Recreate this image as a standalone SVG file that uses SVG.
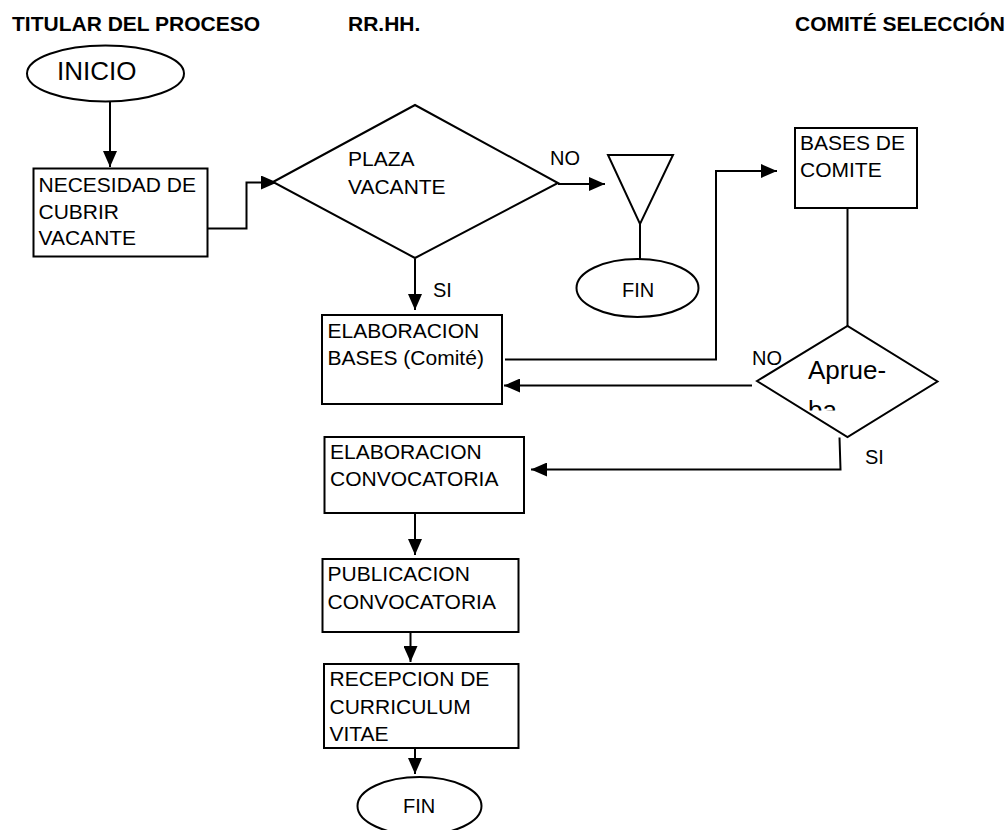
<svg xmlns="http://www.w3.org/2000/svg" width="1008" height="830" viewBox="0 0 1008 830">
  <style>
    .shape { fill: #ffffff; stroke: #000000; stroke-width: 2; }
    .conn { fill: none; stroke: #000000; stroke-width: 2; }
    .t { font-family: "Liberation Sans", Arial, sans-serif; font-size: 21px; fill: #000000; }
    .lbl { font-family: "Liberation Sans", Arial, sans-serif; font-size: 20px; fill: #000000; }
    .big { font-family: "Liberation Sans", Arial, sans-serif; font-size: 26px; fill: #000000; }
    .hdr { font-family: "Liberation Sans", Arial, sans-serif; font-size: 21px; font-weight: bold; fill: #000000; }
  </style>
  <defs>
    <marker id="arr" markerUnits="userSpaceOnUse" markerWidth="16" markerHeight="14" refX="16" refY="7" orient="auto">
      <path d="M0,0 L16,7 L0,14 z" fill="#000000"/>
    </marker>
    <clipPath id="clipAprueba">
      <rect x="790" y="340" width="120" height="70.5"/>
    </clipPath>
  </defs>
  <rect x="0" y="0" width="1008" height="830" fill="#ffffff"/>

  <g id="headers">
    <text class="hdr" x="12" y="31">TITULAR DEL PROCESO</text>
    <text class="hdr" x="348" y="31">RR.HH.</text>
    <text class="hdr" x="795" y="31">COMITÉ SELECCIÓN</text>
  </g>

  <g id="connectors">
    <line class="conn" x1="110" y1="102" x2="110" y2="167" marker-end="url(#arr)"/>
    <polyline class="conn" points="207.5,228.5 246.5,228.5 246.5,182.5 277,182.5" marker-end="url(#arr)"/>
    <line class="conn" x1="558" y1="184" x2="605" y2="184" marker-end="url(#arr)"/>
    <line class="conn" x1="640" y1="224" x2="640" y2="259"/>
    <line class="conn" x1="415" y1="259" x2="415" y2="310" marker-end="url(#arr)"/>
    <polyline class="conn" points="505,359.5 716,359.5 716,171 777,171" marker-end="url(#arr)"/>
    <line class="conn" x1="847.5" y1="208" x2="847.5" y2="326"/>
    <line class="conn" x1="752" y1="385.5" x2="504" y2="385.5" marker-end="url(#arr)"/>
    <polyline class="conn" points="839.5,437.5 840.5,469.5 531,469.5" marker-end="url(#arr)"/>
    <line class="conn" x1="415" y1="513" x2="415" y2="555" marker-end="url(#arr)"/>
    <line class="conn" x1="410.5" y1="632" x2="410.5" y2="662" marker-end="url(#arr)"/>
    <line class="conn" x1="415" y1="743" x2="415" y2="774" marker-end="url(#arr)"/>
    <text class="lbl" x="550" y="165">NO</text>
    <text class="lbl" x="433" y="297">SI</text>
    <text class="lbl" x="752" y="365">NO</text>
    <text class="lbl" x="865" y="464">SI</text>
  </g>

  <g id="inicio">
    <ellipse class="shape" cx="105.5" cy="73.5" rx="78.5" ry="28"/>
    <text class="big" x="57" y="80">INICIO</text>
  </g>

  <g id="necesidad">
    <rect class="shape" x="33.5" y="168.5" width="174" height="88"/>
    <text class="t" x="38.5" y="192">NECESIDAD DE</text>
    <text class="t" x="38.5" y="218.5">CUBRIR</text>
    <text class="t" x="38.5" y="245">VACANTE</text>
  </g>

  <g id="plaza-vacante">
    <polygon class="shape" points="273,182 415,105 558,183 415,258"/>
    <text class="t" x="348" y="166">PLAZA</text>
    <text class="t" x="348" y="193.5">VACANTE</text>
  </g>

  <g id="triangulo">
    <polygon class="shape" points="608,155 673,155 640,224"/>
  </g>

  <g id="fin-1">
    <ellipse class="shape" cx="637.5" cy="288" rx="61" ry="29"/>
    <text class="lbl" x="622" y="297">FIN</text>
  </g>

  <g id="elaboracion-bases">
    <rect class="shape" x="322" y="315" width="180" height="89"/>
    <text class="t" x="327.5" y="337.5">ELABORACION</text>
    <text class="t" x="327.5" y="365">BASES (Comité)</text>
  </g>

  <g id="bases-comite">
    <rect class="shape" x="795" y="128" width="122" height="80"/>
    <text class="t" x="800" y="150">BASES DE</text>
    <text class="t" x="800" y="177">COMITE</text>
  </g>

  <g id="aprueba">
    <polygon class="shape" points="757,381 847.5,326 937.5,381.5 847.5,437"/>
    <g clip-path="url(#clipAprueba)">
      <text class="big" x="808" y="379">Aprue-</text>
      <text class="big" x="808" y="419">ba</text>
    </g>
  </g>

  <g id="elaboracion-convocatoria">
    <rect class="shape" x="324.5" y="437" width="199.5" height="76"/>
    <text class="t" x="330" y="458.5">ELABORACION</text>
    <text class="t" x="330" y="486">CONVOCATORIA</text>
  </g>

  <g id="publicacion">
    <rect class="shape" x="322.5" y="559" width="196" height="73"/>
    <text class="t" x="327.5" y="581">PUBLICACION</text>
    <text class="t" x="327.5" y="608.5">CONVOCATORIA</text>
  </g>

  <g id="recepcion">
    <rect class="shape" x="324" y="664" width="194.5" height="84"/>
    <text class="t" x="329.5" y="686">RECEPCION DE</text>
    <text class="t" x="329.5" y="713.5">CURRICULUM</text>
    <text class="t" x="329.5" y="741">VITAE</text>
  </g>

  <g id="fin-2">
    <ellipse class="shape" cx="419.5" cy="806" rx="62" ry="29"/>
    <text class="lbl" x="403" y="813">FIN</text>
  </g>
</svg>
